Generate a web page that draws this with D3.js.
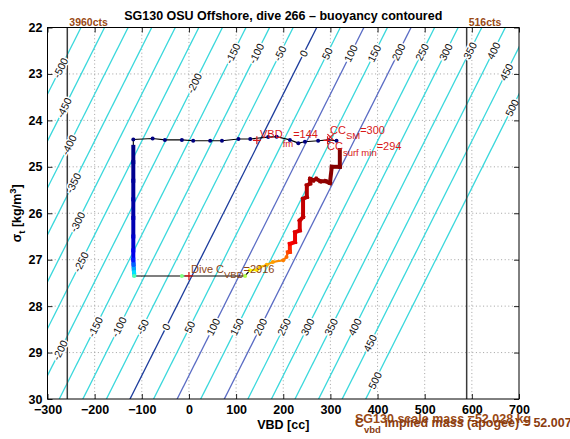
<!DOCTYPE html>
<html><head><meta charset="utf-8">
<script src="https://cdn.jsdelivr.net/npm/d3@7"></script>
<style>
body{margin:0;background:#fff}
svg{display:block;font-family:"Liberation Sans",Arial,Helvetica,sans-serif}
</style>
</head><body>
<svg id="chart" width="570" height="439"></svg>
<script>
// ---------------- data ----------------
const titleText = "SG130 OSU Offshore, dive 266 \u2013 buoyancy contoured";
const xTicks = [-300,-200,-100,0,100,200,300,400,500,600,700];
const yTicks = [22,23,24,25,26,27,28,29,30];
const contourLevels = [-500,-450,-400,-350,-300,-250,-200,-150,-100,-50,0,50,100,150,200,250,300,350,400,450,500];
// B = 0 contour: VBD [cc] at sigma_t 22 and 30
const zeroContourSigma = [22, 30];
const zeroContourVbd = [271, -125];
const darkLevels = [0];
const blueLevels = [100, 200];
// contour label placements
const labelLevels = [-150,-100,-50,0,50,100,150,200,250,300,350,400,
  -200,-500,-450,-400,-350,-300,-250,-200,
  -150,-100,-50,0,50,100,150,200,250,300,350,400,
  450,450,500,500];
const labelSigmas = [22.56,22.56,22.56,22.56,22.56,22.56,22.56,22.53,22.53,22.53,22.5,22.5,
  23.2,22.87,23.73,24.53,25.35,26.19,27.05,28.95,
  28.45,28.45,28.45,28.45,28.45,28.45,28.45,28.45,28.45,28.45,28.45,28.45,
  22.96,28.8,23.73,29.6];
// VBD limits
const vbdLimitValues = [-258, 589];
const vbdLimitLabels = ["3960cts", "516cts"];
// surface points (time order: right to left)
const surfVbd   = [313, 296, 274, 246, 232, 214, 186, 168, 130, 105, 70, 45, 9, -15, -51, -77, -118];
const surfSigma = [24.44,24.42,24.44,24.46,24.49,24.42,24.35,24.36,24.40,24.40,24.44,24.44,24.44,24.42,24.42,24.39,24.41];
// descent
const descVbd   = [-118,-118,-118,-118,-118,-118,-118,-118,-117.5,-117,-116.5,-116];
const descSigma = [24.57,24.9,25.3,25.7,26.1,26.5,26.8,27.0,27.1,27.2,27.27,27.33];
const descT     = [0.0,0.01,0.02,0.03,0.04,0.06,0.09,0.12,0.18,0.26,0.32,0.37];
// apogee
const apoVbd   = [-116, -15, 119];
const apoSigma = [27.35, 27.35, 27.35];
const apoT     = [0.45, 0.5, 0.55];
// climb
const climbVbd   = [129,144,151,165,178,200,207,210,214,214,225,225,235,235,242,242,250,250,257,257,264,270,279,290,299,303,320,320];
const climbSigma = [27.23,27.22,27.16,27.11,27.05,27.01,26.94,26.84,26.83,26.66,26.62,26.41,26.37,26.16,26.08,25.69,25.65,25.40,25.36,25.26,25.29,25.26,25.31,25.31,25.35,25.00,25.00,24.64];
const climbT     = [0.62,0.66,0.68,0.70,0.72,0.75,0.77,0.80,0.82,0.87,0.89,0.90,0.91,0.92,0.93,0.94,0.95,0.955,0.96,0.965,0.97,0.975,0.98,0.985,0.99,0.993,0.997,1.0];
// annotation markers
const plusVbd = [144, 294, 0];
const plusSigma = [24.43, 24.43, 27.35];
const xMarkVbd = [300];
const xMarkSigma = [24.36];

// ---------------- layout ----------------
const svg = d3.select("#chart");
const X0 = 47.5, X1 = 519, Y0 = 27.5, Y1 = 399;
const x = d3.scaleLinear().domain([-300, 700]).range([X0, X1]);
const y = d3.scaleLinear().domain([22, 30]).range([Y0, Y1]);
const brown = "#9a4a14";
const red = "#d81818";
const jet = d3.scaleLinear()
  .domain([0, 0.125, 0.375, 0.625, 0.875, 1])
  .range(["#000080", "#0000ff", "#00ffff", "#ffff00", "#ff0000", "#800000"]);

svg.append("defs").append("clipPath").attr("id", "plotclip")
  .append("rect").attr("x", X0).attr("y", Y0).attr("width", X1 - X0).attr("height", Y1 - Y0);

// grid
const grid = svg.append("g").attr("stroke", "#8a8a8a").attr("stroke-width", 0.8).attr("stroke-dasharray", "1,2.6");
grid.selectAll(".gx").data(xTicks.slice(1, -1)).join("line")
  .attr("x1", d => x(d)).attr("x2", d => x(d)).attr("y1", Y0).attr("y2", Y1);
grid.selectAll(".gy").data(yTicks.slice(1, -1)).join("line")
  .attr("y1", d => y(d)).attr("y2", d => y(d)).attr("x1", X0).attr("x2", X1);

// contours
const vbd0 = d3.scaleLinear().domain(zeroContourSigma).range(zeroContourVbd);
const cg = svg.append("g").attr("clip-path", "url(#plotclip)");
cg.selectAll("line").data(contourLevels).join("line")
  .attr("x1", L => x(vbd0(21) + L)).attr("y1", y(21))
  .attr("x2", L => x(vbd0(31) + L)).attr("y2", y(31))
  .attr("stroke", L => darkLevels.includes(L) ? "#1c3c9c" : blueLevels.includes(L) ? "#5a6cc4" : "#3ad8dc")
  .attr("stroke-width", 1.3);

// VBD limit lines
svg.selectAll(".lim").data(vbdLimitValues).join("line")
  .attr("x1", d => x(d)).attr("x2", d => x(d)).attr("y1", Y0).attr("y2", Y1)
  .attr("stroke", "#3a3a3a").attr("stroke-width", 1.5);
svg.selectAll(".limlab").data(vbdLimitValues).join("text")
  .attr("x", d => x(d) + 2).attr("y", 26)
  .attr("fill", brown).attr("font-size", "10.5px").attr("font-weight", "bold")
  .text((d, i) => vbdLimitLabels[i]);

// contour labels
const ang = Math.atan2(y(21) - y(22), x(vbd0(21)) - x(vbd0(22))) * 180 / Math.PI;
svg.append("g").selectAll("text").data(labelLevels).join("text")
  .attr("transform", (L, i) => `translate(${x(vbd0(labelSigmas[i]) + L)},${y(labelSigmas[i])}) rotate(${ang})`)
  .attr("text-anchor", "middle").attr("dy", "0.35em")
  .attr("font-size", "10.5px").attr("fill", "#111")
  .attr("stroke", "#fff").attr("stroke-width", 3).attr("paint-order", "stroke")
  .text(L => String(L));

// track
const line = d3.line().x(d => x(d[0])).y(d => y(d[1]));
const surf = surfVbd.map((v, i) => [v, surfSigma[i], 0]);
const desc = descVbd.map((v, i) => [v, descSigma[i], descT[i]]);
const apo = apoVbd.map((v, i) => [v, apoSigma[i], apoT[i]]);
const climb = climbVbd.map((v, i) => [v, climbSigma[i], climbT[i]]);
const all = surf.concat(desc, apo, climb);
svg.append("path").attr("d", line(all)).attr("fill", "none").attr("stroke", "#000").attr("stroke-width", 1.1);

function thickSegs(pts, wfn) {
  const segs = d3.pairs(pts);
  svg.append("g").selectAll("line").data(segs).join("line")
    .attr("x1", s => x(s[0][0])).attr("y1", s => y(s[0][1]))
    .attr("x2", s => x(s[1][0])).attr("y2", s => y(s[1][1]))
    .attr("stroke", s => jet((s[0][2] + s[1][2]) / 2))
    .attr("stroke-width", s => wfn((s[0][2] + s[1][2]) / 2))
    .attr("stroke-linecap", "square");
}
thickSegs(desc, t => 4);
thickSegs(climb, t => t < 0.8 ? 2 : 4);

const dots = surf.concat(apo, climb.filter(d => d[2] < 0.85));
svg.append("g").selectAll("circle").data(dots).join("circle")
  .attr("cx", d => x(d[0])).attr("cy", d => y(d[1])).attr("r", 2)
  .attr("fill", d => jet(d[2]));

// markers
svg.append("g").selectAll("path").data(plusVbd).join("path")
  .attr("d", (v, i) => { const cx = x(v), cy = y(plusSigma[i]); return `M${cx-4},${cy}H${cx+4}M${cx},${cy-4}V${cy+4}`; })
  .attr("stroke", red).attr("stroke-width", 1.2);
svg.append("g").selectAll("path").data(xMarkVbd).join("path")
  .attr("d", (v, i) => { const cx = x(v), cy = y(xMarkSigma[i]); return `M${cx-3},${cy-3}L${cx+3},${cy+3}M${cx-3},${cy+3}L${cx+3},${cy-3}`; })
  .attr("stroke", red).attr("stroke-width", 1.2);

// annotation texts
function subText(px, py, color, parts) {
  const t = svg.append("text").attr("x", px).attr("y", py).attr("fill", color).attr("font-size", "11px");
  parts.forEach(p => {
    t.append("tspan").attr("dy", p[1]).attr("font-size", p[2] || "11px").text(p[0]);
  });
  return t;
}
subText(260, 138, red, [["VBD", 0], ["fm", 9, "9.5px"], ["=144", -9]]);
subText(330, 134, red, [["CC", 0], ["SM", 5, "9.5px"], ["=300", -5]]);
subText(327, 150, red, [["CC", 0], ["surf min", 6, "9.5px"], ["=294", -6]]);
subText(191, 273, "#8c4516", [["Dive C", 0], ["VBD", 5, "9.5px"], ["=2916", -5]]);

// axes
const axB = d3.axisBottom(x).tickValues(xTicks).tickSizeInner(-5).tickSizeOuter(0).tickPadding(6);
const axT = d3.axisTop(x).tickValues(xTicks).tickSizeInner(-5).tickSizeOuter(0).tickFormat("");
const axL = d3.axisLeft(y).tickValues(yTicks).tickSizeInner(-5).tickSizeOuter(0).tickPadding(5).tickFormat(d3.format("d"));
const axR = d3.axisRight(y).tickValues(yTicks).tickSizeInner(-5).tickSizeOuter(0).tickFormat("");
[[axB, `translate(0,${Y1})`], [axT, `translate(0,${Y0})`], [axL, `translate(${X0},0)`], [axR, `translate(${X1},0)`]]
  .forEach(([a, tr]) => {
    const g = svg.append("g").attr("transform", tr).call(a);
    g.select(".domain").remove();
    g.selectAll("line").attr("stroke", "#222");
    g.selectAll("text").attr("font-size", "12.5px").attr("font-weight", "bold").attr("fill", "#000")
      .attr("font-family", "'Liberation Sans',Arial,sans-serif");
  });
svg.append("rect").attr("x", X0).attr("y", Y0).attr("width", X1 - X0).attr("height", Y1 - Y0)
  .attr("fill", "none").attr("stroke", "#000").attr("stroke-width", 1);

// titles
svg.append("text").attr("x", (X0 + X1) / 2).attr("y", 20).attr("text-anchor", "middle")
  .attr("font-size", "12.5px").attr("font-weight", "bold").text(titleText);
svg.append("text").attr("x", (X0 + X1) / 2).attr("y", 429).attr("text-anchor", "middle")
  .attr("font-size", "12.5px").attr("font-weight", "bold").text("VBD [cc]");
const yl = svg.append("text").attr("transform", `translate(21,${(Y0 + Y1) / 2}) rotate(-90)`)
  .attr("text-anchor", "middle").attr("font-size", "12.5px").attr("font-weight", "bold");
yl.append("tspan").text("\u03c3");
yl.append("tspan").attr("dy", 4).attr("font-size", "9.5px").text("t");
yl.append("tspan").attr("dy", -4).text(" [kg/m");
yl.append("tspan").attr("dy", -5).attr("font-size", "9.5px").text("3");
yl.append("tspan").attr("dy", 5).text("]");

// bottom-right notes (overlapping, as in original)
svg.append("text").attr("x", 355).attr("y", 423).attr("fill", brown)
  .attr("font-size", "12.5px").attr("font-weight", "bold").text("SG130 scale mass =52.028 kg");
const n2 = svg.append("text").attr("x", 355).attr("y", 427).attr("fill", "#8a3c10")
  .attr("font-size", "12.5px").attr("font-weight", "bold");
n2.append("tspan").text("C");
n2.append("tspan").attr("dy", 6).attr("font-size", "9.5px").text("vbd");
n2.append("tspan").attr("dy", -6).text(" implied mass (apogee) = 52.007 kg");
</script>
</body></html>
